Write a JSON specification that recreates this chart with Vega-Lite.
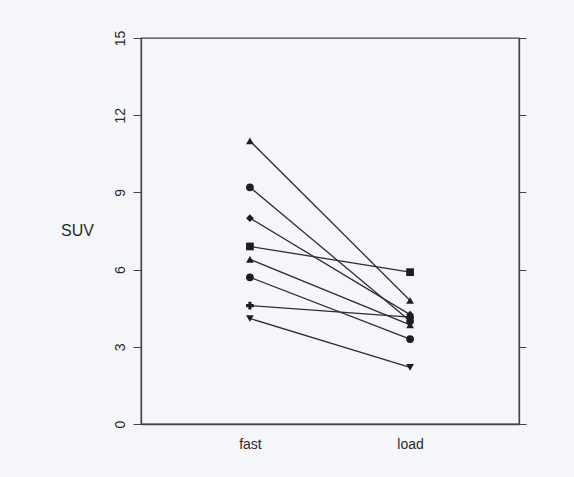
{
  "$schema": "https://vega.github.io/schema/vega-lite/v6.json",
  "autosize": "none",
  "width": 378,
  "height": 386,
  "padding": {"left": 141, "top": 38, "right": 55, "bottom": 53},
  "background": "#f5f6fa",
  "config": {
    "view": {"stroke": "#444444", "strokeWidth": 1.3},
    "font": "Liberation Sans",
    "axis": {"domainColor": "#444444", "tickColor": "#444444", "labelColor": "#2a2a2a", "titleColor": "#2a2a2a", "grid": false}
  },
  "data": {
    "values": [
      {"id": "a", "cond": "fast", "suv": 11.0}, {"id": "a", "cond": "load", "suv": 4.8},
      {"id": "b", "cond": "fast", "suv": 9.2}, {"id": "b", "cond": "load", "suv": 4.0},
      {"id": "c", "cond": "fast", "suv": 8.0}, {"id": "c", "cond": "load", "suv": 4.25},
      {"id": "d", "cond": "fast", "suv": 6.9}, {"id": "d", "cond": "load", "suv": 5.9},
      {"id": "e", "cond": "fast", "suv": 6.4}, {"id": "e", "cond": "load", "suv": 3.85},
      {"id": "f", "cond": "fast", "suv": 5.7}, {"id": "f", "cond": "load", "suv": 3.3},
      {"id": "g", "cond": "fast", "suv": 4.6}, {"id": "g", "cond": "load", "suv": 4.15},
      {"id": "h", "cond": "fast", "suv": 4.1}, {"id": "h", "cond": "load", "suv": 2.2}
    ]
  },
  "encoding": {
    "x": {"field": "cond", "type": "nominal", "scale": {"type": "point", "padding": 0.68},
          "axis": {"title": null, "ticks": false, "labelAngle": 0, "labelFontSize": 14, "labelPadding": 13, "domainWidth": 1.3}},
    "y": {"field": "suv", "type": "quantitative", "scale": {"domain": [0, 15], "nice": false}}
  },
  "layer": [
    {
      "mark": {"type": "line", "color": "#2e2e2e", "strokeWidth": 1.3},
      "encoding": {
        "detail": {"field": "id"},
        "y": {"field": "suv", "type": "quantitative", "scale": {"domain": [0, 15], "nice": false},
              "axis": {"orient": "left", "title": "SUV", "values": [0, 3, 6, 9, 12, 15], "tickSize": 8, "labelAngle": 270, "labelAlign": "center", "labelBaseline": "bottom", "labelPadding": 6, "labelFontSize": 14, "titleAngle": 0, "titleX": -64, "titleY": 192, "titleAlign": "center", "titleBaseline": "middle", "titleFontSize": 16, "titleFontWeight": "normal", "domainWidth": 1.3}}
      }
    },
    {
      "mark": {"type": "point", "filled": true, "color": "#1e1e1e", "size": 60, "opacity": 1},
      "encoding": {
        "shape": {"field": "id", "type": "nominal", "legend": null,
                  "scale": {"domain": ["a", "b", "c", "d", "e", "f", "g", "h"], "range": ["triangle-up", "circle", "diamond", "square", "triangle-up", "circle", "cross", "triangle-down"]}},
        "y": {"field": "suv", "type": "quantitative", "scale": {"domain": [0, 15], "nice": false},
              "axis": {"orient": "right", "title": null, "values": [0, 3, 6, 9, 12, 15], "labels": false, "tickSize": 7, "domainWidth": 1.3}}
      }
    }
  ],
  "resolve": {"axis": {"y": "independent"}}
}
